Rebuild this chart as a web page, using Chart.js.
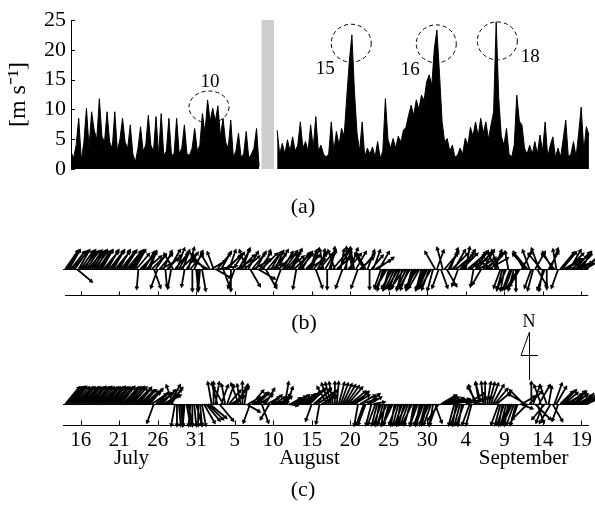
<!DOCTYPE html>
<html>
<head>
<meta charset="utf-8">
<script src="https://cdn.jsdelivr.net/npm/chart.js@4/dist/chart.umd.min.js"></script>
<style>
  body { margin: 0; background: #fff; }
  #wrap { position: relative; width: 595px; height: 507px; }
  canvas { position: absolute; left: 0; }
</style>
</head>
<body>
<div id="wrap">
  <canvas id="speedChart" width="595" height="225" style="top:0"></canvas>
  <canvas id="stickChart" width="595" height="282" style="top:225px"></canvas>
</div>
<script>
// days are counted from 1 July (32 = 1 Aug, 63 = 1 Sep)

// (a) wind speed, one value every 8 h from day 14.75
const speedStart = 14.75
const speedStep = 1 / 3
const speed = [
  2.9, 1.8, 4.0, 8.5, 1.5, 4.5, 10.2, 3.6, 9.6, 6.5,
  5.0, 11.8, 5.5, 4.5, 9.6, 4.5, 3.5, 9.6, 3.0, 5.0,
  8.5, 4.5, 3.5, 7.4, 2.5, 1.2, 3.5, 7.1, 3.0, 4.0,
  9.0, 4.0, 3.0, 8.8, 2.3, 9.3, 2.3, 3.0, 8.5, 2.3,
  2.5, 8.5, 2.5, 3.5, 7.4, 2.5, 2.3, 3.5, 6.8, 3.0,
  4.0, 9.3, 6.0, 11.6, 8.0, 10.2, 8.0, 10.6, 5.5, 8.5,
  4.5, 3.5, 8.2, 2.0, 3.0, 6.0, 2.0, 2.5, 6.3, 1.8,
  2.5, 3.5, 6.8, 0.4, null, null, null, null, null, null,
  6.5, 2.5, 4.3, 2.5, 4.9, 3.0, 5.4, 3.0, 4.0, 7.9,
  3.5, 4.6, 3.0, 7.4, 3.5, 8.8, 3.0, 4.0, 2.5, 2.0,
  2.5, 7.9, 3.0, 6.3, 4.0, 6.8, 5.5, 12.0, 18.0, 22.5,
  13.0, 6.0, 3.0, 7.9, 2.0, 3.5, 2.5, 3.7, 2.0, 4.6,
  1.8, 3.0, 11.8, 5.0, 3.5, 5.1, 3.5, 5.5, 4.5, 6.5,
  7.0, 9.0, 10.7, 9.0, 11.6, 10.0, 12.4, 11.5, 14.6, 15.8,
  14.0, 20.2, 23.3, 16.0, 8.0, 4.5, 5.1, 3.0, 4.0, 2.0,
  2.3, 3.5, 2.5, 5.2, 4.0, 7.0, 5.5, 7.9, 5.5, 8.5,
  6.0, 7.9, 5.0, 7.4, 9.6, 24.7, 11.8, 5.5, 4.0, 6.8,
  2.5, 2.0, 4.0, 12.4, 8.0, 7.4, 3.5, 2.5, 4.0, 2.5,
  4.6, 2.5, 5.7, 3.0, 7.9, 2.0, 4.0, 5.4, 2.0, 3.5,
  2.0, 5.0, 8.2, 2.0, 2.5, 4.6, 2.0, 6.0, 10.4, 3.0,
  7.1, 5.7
]
// missing record (grey band)
const gapFrom = 39.4
const gapTo = 41.0
// circled events
const eventLabels = ['10', '15', '16', '18']
const eventDay = [32.6, 51.0, 62.0, 69.9]
const eventSpeed = [10.4, 21.1, 21.0, 21.5]

// (b) and (c) sticks, one every 6 h from day 14: direction (deg from N) and length
// each line = 5 days
const stickStart = 14
const stickStep = 0.25
const dirB = [
  35,32,30,38, 40,35,130,30, 35,40,30,35, 40,32,35,38, 30,35,35,30,
  40,35,30,38, 35,30,40,35, 30,38,35,32, 40,35,35,30, 30,40,185,45,
  40,30,50,25, 20,45,160,35, 200,40,60,25, 175,45,30,190, 330,40,20,30,
  45,20,190,35, 15,40,180,25, 175,180,185,170, 320,310,300,330, 60,340,120,40,
  80,30,160,50, 45,20,180,35, 200,60,30,45, 20,50,340,30, 150,40,60,30,
  120,35,45,20, 150,40,70,30, 40,25,30,45, 200,30,35,40, 50,30,25,45,
  190,35,40,30, 330,45,60,20, 20,40,160,30, 40,10,350,30, 180,20,10,40,
  340,50,30,10, 200,20,0,40, 20,350,350,30, 200,50,40,330, 330,20,180,40,
  20,60,55,30, 200,195,205,210, 195,200,210,205, 200,210,205,195, 215,205,200,210,
  195,200,205,215, 210,195,200,205, 205,200,210,195, 330,20,200,160, 345,40,150,30,
  20,45,30,50, 200,40,45,30, 10,50,60,40, 190,35,40,55, 210,30,50,45,
  60,40,300,20, 330,340,200,195, 190,205,350,200, 200,195,180,210, 210,30,330,320,
  320,340,200,195, 30,150,340,320, 190,200,180,30, 20,330,320,350, 200,40,40,60,
  60,45,30,50, 70,40,45,60, 30,50,60,40
]
const lenB = [
  10,10,10,10, 10,10,9,10, 10,10,10,10, 10,10,10,10, 10,10,10,10,
  10,10,10,10, 10,10,10,10, 10,10,10,10, 10,10,10,10, 10,9,9,9,
  10,9,9,9, 8,9,9,8, 9,9,9,9, 8,9,10,9, 8,9,10,9,
  9,9,8,9, 10,9,10,9, 10,10,9,10, 9,8,8,8, 7,8,8,9,
  8,9,9,9, 9,9,10,9, 9,8,10,9, 10,9,9,9, 9,9,9,9,
  9,9,10,9, 10,9,7,9, 9,9,10,9, 8,9,10,9, 9,9,10,9,
  9,9,9,9, 8,9,9,9, 10,9,9,9, 9,9,9,9, 9,9,10,9,
  9,8,10,9, 9,9,10,9, 10,9,10,9, 9,8,9,8, 8,9,9,8,
  9,8,9,9, 9,10,10,10, 10,10,10,10, 10,10,10,10, 10,10,10,10,
  10,10,10,10, 10,10,10,10, 10,10,10,10, 9,9,9,9, 10,9,9,9,
  10,10,10,10, 8,10,10,10, 10,10,9,10, 8,10,10,9, 8,10,10,10,
  10,10,7,9, 9,9,9,10, 10,10,8,10, 10,10,10,10, 9,9,9,9,
  10,9,9,10, 9,9,10,9, 10,10,9,9, 10,9,9,9, 9,10,10,9,
  9,10,10,9, 9,10,10,9, 9,9,9,9
]
const dirC = [
  40,40,40,38, 38,40,42,40, 40,42,40,40, 42,40,38,40, 40,38,40,42,
  40,40,42,40, 38,40,40,42, 40,38,42,40, 40,42,38,40, 45,42,40,45,
  45,50,50,45, 40,55,200,50, 55,50,45,60, 60,45,30,35, 340,190,180,175,
  175,180,185,170, 170,185,180,175, 165,180,175,170, 150,140,135,130, 350,0,10,345,
  140,20,330,350, 20,40,60,50, 40,30,340,350, 0,10,120,60, 200,40,50,45,
  45,55,160,40, 30,60,210,50, 60,70,80,60, 45,50,10,20, 100,60,60,55,
  55,60,60,55, 55,50,50,45, 200,50,45,55, 190,60,60,40, 330,340,345,350,
  0,5,15,20, 25,30,35,40, 50,55,60,45, 190,60,70,200, 200,50,60,195,
  80,200,195,190, 200,195,190,205, 195,200,205,190, 200,195,190,200, 195,205,200,195,
  205,190,195,200, 190,200,200,195, 195,205,200,190, 160,200,215,60, 60,65,70,75,
  75,80,195,190, 200,195,190,200, 60,70,200,195, 70,340,330,350, 345,355,0,10,
  15,20,30,40, 50,200,195,190, 200,195,190,205, 205,200,195,200, 110,60,315,300,
  225,45,0,20, 135,160,30,340, 200,220,340,10, 210,150,20,30, 200,45,45,50,
  60,55,50,60, 45,50,60,55, 50,55,60,65
]
const lenC = [
  10,10,10,10, 10,10,10,10, 10,10,10,10, 10,10,10,10, 10,10,10,10,
  10,10,10,10, 10,10,10,10, 10,10,10,10, 10,10,10,10, 9,10,9,9,
  9,9,8,8, 9,8,9,8, 8,8,9,8, 8,9,10,9, 9,10,10,10,
  10,10,10,10, 10,10,10,10, 10,10,10,10, 10,10,10,10, 10,10,10,10,
  10,9,9,9, 9,8,7,6, 10,9,10,9, 10,9,7,6, 9,8,8,7,
  7,7,9,6, 8,6,8,6, 6,5,5,4, 6,5,10,8, 4,5,5,6,
  7,8,8,8, 9,9,10,10, 8,10,10,9, 9,8,7,8, 9,10,10,10,
  10,10,10,10, 10,10,10,10, 9,9,8,8, 10,8,7,10, 10,7,6,10,
  5,10,10,10, 10,10,10,10, 10,10,10,10, 10,10,10,10, 10,10,10,10,
  10,10,10,10, 10,10,10,10, 10,10,10,10, 9,10,9,8, 7,7,8,8,
  9,9,10,10, 10,10,10,10, 10,9,10,10, 9,9,9,10, 10,10,10,10,
  10,10,10,9, 8,10,10,10, 10,10,10,10, 10,10,10,10, 6,7,9,9,
  10,8,10,9, 10,9,10,9, 9,9,9,8, 10,9,10,9, 8,8,9,8,
  8,8,9,8, 8,7,7,7, 8,7,6,6
]

// time axis
const tickDays = [16, 21, 26, 31, 36, 41, 46, 51, 56, 61, 66, 71, 76, 81]
const tickLabels = ['16', '21', '26', '31', '5', '10', '15', '20', '25', '30', '4', '9', '14', '19']
const monthLabels = ['July', 'August', 'September']
const monthDays = [22.6, 45.7, 73.5]

const SERIF = '"Liberation Serif", "Times New Roman", serif'
Chart.defaults.font.family = SERIF
Chart.defaults.color = '#000'

const DAY_END = 81.886

// ---------- (a) ----------
const speedPts = speed.map((v, i) => ({ x: speedStart + i * speedStep, y: v }))

const panelA = {
  id: 'panelA',
  beforeDatasetsDraw(chart) {
    const { ctx, chartArea: a, scales: { x } } = chart
    const x1 = x.getPixelForValue(gapFrom)
    const x2 = x.getPixelForValue(gapTo)
    ctx.save()
    ctx.fillStyle = '#cdcdcd'
    ctx.fillRect(x1, a.top, x2 - x1, a.bottom - a.top)
    ctx.restore()
  },
  afterDraw(chart) {
    const { ctx, chartArea: a, scales: { x, y } } = chart
    ctx.save()
    ctx.strokeStyle = '#000'
    ctx.lineWidth = 1
    y.ticks.forEach(t => {
      const py = Math.round(y.getPixelForValue(t.value)) + 0.5
      ctx.beginPath()
      ctx.moveTo(a.left, py)
      ctx.lineTo(a.left + 4, py)
      ctx.stroke()
    })
    // dashed circles round the events
    const labelOff = [[1, -25], [-26, 26], [-26, 26], [33, 16]]
    ctx.setLineDash([4, 3])
    ctx.font = '19px ' + SERIF
    ctx.fillStyle = '#000'
    ctx.textAlign = 'center'
    ctx.textBaseline = 'middle'
    eventDay.forEach((d, i) => {
      const cx = x.getPixelForValue(d)
      const cy = y.getPixelForValue(eventSpeed[i])
      ctx.beginPath()
      ctx.ellipse(cx, cy, 20, i === 0 ? 16 : 19, 0, 0, 2 * Math.PI)
      ctx.stroke()
      ctx.fillText(eventLabels[i], cx + labelOff[i][0], cy + labelOff[i][1])
    })
    ctx.setLineDash([])
    ctx.font = '22px ' + SERIF
    ctx.fillText('(a)', 303, 207)
    ctx.restore()
  }
}

new Chart(document.getElementById('speedChart'), {
  type: 'line',
  data: {
    datasets: [{
      data: speedPts,
      borderColor: '#000',
      backgroundColor: '#000',
      borderWidth: 1,
      fill: 'origin',
      pointRadius: 0,
      tension: 0,
      spanGaps: false
    }]
  },
  options: {
    responsive: false,
    animation: false,
    layout: { padding: { left: 0, right: 5, top: 20, bottom: 56 } },
    plugins: { legend: { display: false }, tooltip: { enabled: false } },
    scales: {
      x: { type: 'linear', min: speedStart, max: DAY_END, display: false },
      y: {
        min: 0, max: 25,
        ticks: { stepSize: 5, padding: 5, font: { size: 22 }, color: '#000' },
        grid: { drawOnChartArea: false, drawTicks: false },
        border: { color: '#000', width: 1 },
        title: { display: true, text: '[m s⁻¹]', font: { size: 24 }, color: '#000', padding: { top: 4, bottom: 0 } },
        afterFit(s) { s.width = 71 }
      }
    }
  },
  plugins: [panelA]
})

// ---------- (b) and (c) ----------
const X_MIN = 13.71
const PX_PER_DAY = 527 / (DAY_END - X_MIN)
const STICK_PX = 2.1
const BASE_B = 156   // stick origin of (b), px above the bottom axis
const AXIS_B = 130   // axis line of (b)
const BASE_C = 21    // stick origin of (c)

function sticks(dirs, lens, base) {
  const pts = []
  dirs.forEach((b, i) => {
    const d = stickStart + i * stickStep
    const r = b * Math.PI / 180
    const L = lens[i] * STICK_PX
    pts.push({ x: d, y: base })
    pts.push({ x: d + L * Math.sin(r) / PX_PER_DAY, y: base + L * Math.cos(r), rot: b })
    pts.push({ x: d, y: null })
  })
  return pts
}

function stickSet(data) {
  return {
    data,
    borderColor: '#000',
    borderWidth: 1.8,
    pointStyle: 'triangle',
    pointRadius: c => (c.raw && c.raw.rot !== undefined ? 2.8 : 0),
    pointRotation: c => (c.raw && c.raw.rot) || 0,
    pointBackgroundColor: '#000',
    pointBorderColor: '#000',
    pointBorderWidth: 0,
    spanGaps: false,
    clip: false,
    tension: 0
  }
}

const panelBC = {
  id: 'panelBC',
  beforeDatasetsDraw(chart) {
    const { ctx, chartArea: a, scales: { y } } = chart
    ctx.save()
    ctx.strokeStyle = '#000'
    ctx.lineWidth = 1
    ;[BASE_B, BASE_C].forEach(v => {
      const py = Math.round(y.getPixelForValue(v)) + 0.5
      ctx.beginPath()
      ctx.moveTo(a.left, py)
      ctx.lineTo(a.right, py)
      ctx.stroke()
    })
    ctx.restore()
  },
  afterDraw(chart) {
    const { ctx, chartArea: a, scales: { x, y } } = chart
    ctx.save()
    ctx.strokeStyle = '#000'
    ctx.fillStyle = '#000'
    ctx.lineWidth = 1
    const yb = Math.round(y.getPixelForValue(AXIS_B)) + 0.5
    const yc = Math.round(y.getPixelForValue(0)) + 0.5
    ctx.beginPath()
    ctx.moveTo(a.left + 2, yb)
    ctx.lineTo(a.right, yb)
    ctx.stroke()
    tickDays.forEach(d => {
      const px = Math.round(x.getPixelForValue(d)) + 0.5
      ctx.beginPath()
      ctx.moveTo(px, yb)
      ctx.lineTo(px, yb - 4)
      ctx.moveTo(px, yc)
      ctx.lineTo(px, yc - 5)
      ctx.stroke()
    })
    ctx.textAlign = 'center'
    ctx.textBaseline = 'middle'
    ctx.font = '21px ' + SERIF
    monthLabels.forEach((m, i) => ctx.fillText(m, x.getPixelForValue(monthDays[i]), yc + 33))
    ctx.font = '22px ' + SERIF
    ctx.fillText('(b)', 304, 98)
    ctx.fillText('(c)', 303, 265)
    // north arrow
    ctx.font = '18px ' + SERIF
    ctx.fillText('N', 529, 97)
    ctx.beginPath()
    ctx.moveTo(529.5, 107)
    ctx.lineTo(529.5, 155)
    ctx.moveTo(529.5, 107)
    ctx.lineTo(521, 130.5)
    ctx.lineTo(538, 130.5)
    ctx.stroke()
    ctx.restore()
  }
}

new Chart(document.getElementById('stickChart'), {
  type: 'line',
  data: {
    datasets: [
      stickSet(sticks(dirB, lenB, BASE_B)),
      stickSet(sticks(dirC, lenC, BASE_C))
    ]
  },
  options: {
    responsive: false,
    animation: false,
    layout: { padding: { left: 63, right: 5, top: 0, bottom: 0 } },
    plugins: { legend: { display: false }, tooltip: { enabled: false } },
    scales: {
      x: {
        type: 'linear', min: X_MIN, max: DAY_END,
        afterBuildTicks(s) { s.ticks = tickDays.map(v => ({ value: v })) },
        ticks: { callback: (v, i) => tickLabels[i], autoSkip: false, maxRotation: 0, padding: 3, font: { size: 21 }, color: '#000' },
        grid: { drawOnChartArea: false, drawTicks: false },
        border: { color: '#000', width: 1 },
        afterFit(s) { s.height = 82 }
      },
      y: { min: 0, max: 200, display: false }
    }
  },
  plugins: [panelBC]
})
</script>
</body>
</html>
